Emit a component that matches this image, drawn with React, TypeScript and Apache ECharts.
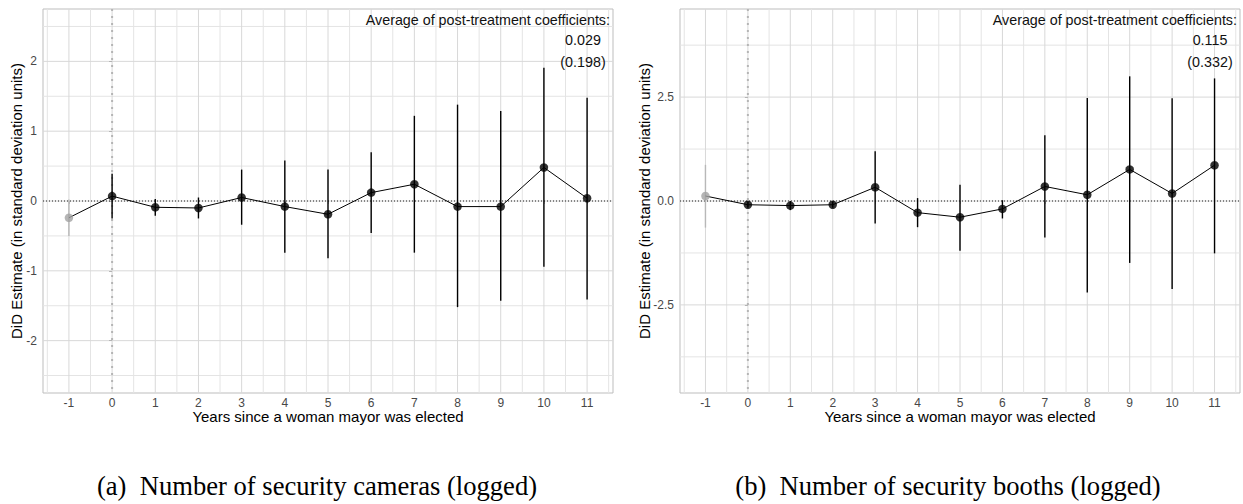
import React, { useEffect, useRef } from "react";
import * as echarts from "echarts";

// ---- data ----
const years = [-1, 0, 1, 2, 3, 4, 5, 6, 7, 8, 9, 10, 11];

const camerasEst = [-0.24, 0.07, -0.09, -0.1, 0.05, -0.08, -0.19, 0.12, 0.24, -0.08, -0.08, 0.48, 0.04];
const camerasLo = [-0.5, -0.25, -0.21, -0.25, -0.34, -0.74, -0.82, -0.46, -0.74, -1.52, -1.43, -0.94, -1.41];
const camerasHi = [0.02, 0.39, 0.03, 0.05, 0.45, 0.58, 0.45, 0.7, 1.22, 1.38, 1.29, 1.91, 1.48];

const boothsEst = [0.12, -0.09, -0.11, -0.09, 0.33, -0.28, -0.39, -0.19, 0.35, 0.15, 0.76, 0.18, 0.86];
const boothsLo = [-0.64, -0.16, -0.22, -0.16, -0.54, -0.63, -1.2, -0.42, -0.88, -2.2, -1.49, -2.12, -1.26];
const boothsHi = [0.87, -0.01, 0.0, -0.01, 1.2, 0.07, 0.39, 0.02, 1.58, 2.48, 3.0, 2.47, 2.95];

const camerasYTicks = [-2, -1, 0, 1, 2];
const camerasYMinor = [-2.5, -1.5, -0.5, 0.5, 1.5, 2.5];
const boothsYTicks = [-2.5, 0, 2.5];
const boothsYMinor = [-3.75, -1.25, 1.25, 3.75];
const xMinor = [-1.5, -0.5, 0.5, 1.5, 2.5, 3.5, 4.5, 5.5, 6.5, 7.5, 8.5, 9.5, 10.5, 11.5];

const annotationHeader = "Average of post-treatment coefficients:";
const camerasAvg = "0.029";
const camerasSe = "(0.198)";
const boothsAvg = "0.115";
const boothsSe = "(0.332)";

const xTitle = "Years since a woman mayor was elected";
const yTitle = "DiD Estimate (in standard deviation units)";
const captionA = "(a)\u00a0\u00a0Number of security cameras (logged)";
const captionB = "(b)\u00a0\u00a0Number of security booths (logged)";

// ---- layout ----
const SANS = '"Liberation Sans", Arial, Helvetica, sans-serif';
const grids = [
  { left: 43, top: 9, width: 570, height: 384 },
  { left: 680, top: 9, width: 560, height: 384 },
];
const PRE = "#a3a3a3";

function gridLineSeries(idx: number, values: number[], vertical: boolean, color: string, width: number) {
  return {
    type: "custom",
    xAxisIndex: idx,
    yAxisIndex: idx,
    silent: true,
    z: 0,
    data: values.map((v) => (vertical ? [v, 0] : [0, v])),
    renderItem: (params: any, api: any) => {
      const cs = params.coordSys;
      const p = api.coord([api.value(0), api.value(1)]);
      const shape = vertical
        ? { x1: p[0], y1: cs.y, x2: p[0], y2: cs.y + cs.height }
        : { x1: cs.x, y1: p[1], x2: cs.x + cs.width, y2: p[1] };
      return { type: "line", shape, style: { stroke: color, lineWidth: width } };
    },
  };
}

function refLineSeries(idx: number, vertical: boolean, color: string, width: number, dash: number[]) {
  return {
    type: "custom",
    xAxisIndex: idx,
    yAxisIndex: idx,
    silent: true,
    z: 1,
    data: [[0, 0]],
    renderItem: (params: any, api: any) => {
      const cs = params.coordSys;
      const p = api.coord([0, 0]);
      const shape = vertical
        ? { x1: p[0], y1: cs.y, x2: p[0], y2: cs.y + cs.height }
        : { x1: cs.x, y1: p[1], x2: cs.x + cs.width, y2: p[1] };
      return { type: "line", shape, style: { stroke: color, lineWidth: width, lineDash: dash } };
    },
  };
}

function panelSeries(idx: number, est: number[], lo: number[], hi: number[], yMajor: number[], yMinor: number[]) {
  const pts = years.map((y, i) => [y, est[i]]);
  return [
    gridLineSeries(idx, xMinor, true, "#e4e4e4", 1),
    gridLineSeries(idx, yMinor, false, "#e4e4e4", 1),
    gridLineSeries(idx, years, true, "#d8d8d8", 1),
    gridLineSeries(idx, yMajor, false, "#d8d8d8", 1),
    refLineSeries(idx, true, "#b5b5b5", 2, [2, 5]),
    refLineSeries(idx, false, "#222", 1, [1, 2]),
    {
      type: "custom",
      xAxisIndex: idx,
      yAxisIndex: idx,
      z: 2,
      data: years.map((y, i) => [y, lo[i], hi[i]]),
      encode: { x: 0, y: [1, 2] },
      renderItem: (params: any, api: any) => {
        const x = api.value(0);
        const a = api.coord([x, api.value(1)]);
        const b = api.coord([x, api.value(2)]);
        return {
          type: "line",
          shape: { x1: a[0], y1: a[1], x2: b[0], y2: b[1] },
          style: { stroke: x < 0 ? "#b8b8b8" : "#000", lineWidth: 1.4 },
        };
      },
    },
    {
      type: "line",
      xAxisIndex: idx,
      yAxisIndex: idx,
      z: 3,
      data: pts,
      symbol: "none",
      lineStyle: { color: "#000", width: 1 },
    },
    {
      type: "scatter",
      xAxisIndex: idx,
      yAxisIndex: idx,
      z: 4,
      data: pts,
      symbol: "circle",
      symbolSize: 8.5,
      itemStyle: { color: (p: any) => (p.value[0] < 0 ? PRE : "#000") },
    },
  ];
}

function xAxis(idx: number) {
  return {
    type: "value",
    gridIndex: idx,
    min: -1.6,
    max: 11.6,
    axisLine: { show: false },
    splitLine: { show: false },
    axisTick: { show: true, customValues: years, length: 3, lineStyle: { color: "#b3b3b3" } },
    axisLabel: { customValues: years, margin: 4, color: "#474747", fontSize: 12, lineHeight: 12, fontFamily: SANS },
    name: xTitle,
    nameLocation: "middle",
    nameGap: 16,
    nameMoveOverlap: false,
    nameTextStyle: { color: "#000", fontSize: 15, lineHeight: 15, fontFamily: SANS },
  };
}

function yAxis(idx: number, min: number, max: number, ticks: number[], fmt: (v: number) => string, gap: number) {
  return {
    type: "value",
    gridIndex: idx,
    min,
    max,
    axisLine: { show: false },
    splitLine: { show: false },
    axisTick: { show: true, customValues: ticks, length: 3, lineStyle: { color: "#b3b3b3" } },
    axisLabel: { customValues: ticks, margin: 6, color: "#474747", fontSize: 12, fontFamily: SANS, formatter: fmt },
    name: yTitle,
    nameLocation: "middle",
    nameGap: gap,
    nameMoveOverlap: false,
    nameTextStyle: { color: "#000", fontSize: 15, lineHeight: 15, fontFamily: SANS },
  };
}

function annotation(g: { left: number; top: number; width: number }, avg: string, se: string) {
  const right = g.left + g.width;
  const font = '14.3px "Liberation Sans", Arial, sans-serif';
  const mk = (text: string, x: number, y: number, align: string) => ({
    type: "text",
    x,
    y,
    z: 100,
    silent: true,
    style: { text, font, fill: "#111", align, verticalAlign: "middle", textAlign: align, textVerticalAlign: "middle" },
  });
  return [
    mk(annotationHeader, right - 3, g.top + 11, "right"),
    mk(avg, right - 30, g.top + 31, "center"),
    mk(se, right - 30, g.top + 53, "center"),
  ];
}

function caption(text: string, cx: number) {
  return {
    type: "text",
    x: cx,
    y: 486,
    z: 100,
    silent: true,
    style: {
      text,
      font: '26.6px "Liberation Serif", "Times New Roman", serif',
      fill: "#000",
      align: "center",
      verticalAlign: "middle",
      textAlign: "center",
      textVerticalAlign: "middle",
    },
  };
}

export default function App() {
  const ref = useRef<HTMLDivElement>(null);
  useEffect(() => {
    if (!ref.current) return;
    const chart = echarts.init(ref.current, undefined, { renderer: "svg" });
    chart.setOption({
      animation: false,
      backgroundColor: "#fff",
      textStyle: { fontFamily: SANS },
      grid: grids.map((g) => ({ ...g, show: true, borderColor: "#bdbdbd", borderWidth: 1, backgroundColor: "transparent" })),
      xAxis: [xAxis(0), xAxis(1)],
      yAxis: [
        yAxis(0, -2.75, 2.75, camerasYTicks, (v: number) => String(v), 19.5),
        yAxis(1, -4.62, 4.62, boothsYTicks, (v: number) => v.toFixed(1), 28.5),
      ],
      series: [
        ...panelSeries(0, camerasEst, camerasLo, camerasHi, camerasYTicks, camerasYMinor),
        ...panelSeries(1, boothsEst, boothsLo, boothsHi, boothsYTicks, boothsYMinor),
      ],
      graphic: [
        ...annotation(grids[0], camerasAvg, camerasSe),
        ...annotation(grids[1], boothsAvg, boothsSe),
        caption(captionA, 317),
        caption(captionB, 948),
      ],
    });
    return () => chart.dispose();
  }, []);
  return (
    <div
      ref={ref}
      style={{ position: "fixed", left: 0, top: 0, width: 1243, height: 504, background: "#fff" }}
    />
  );
}
